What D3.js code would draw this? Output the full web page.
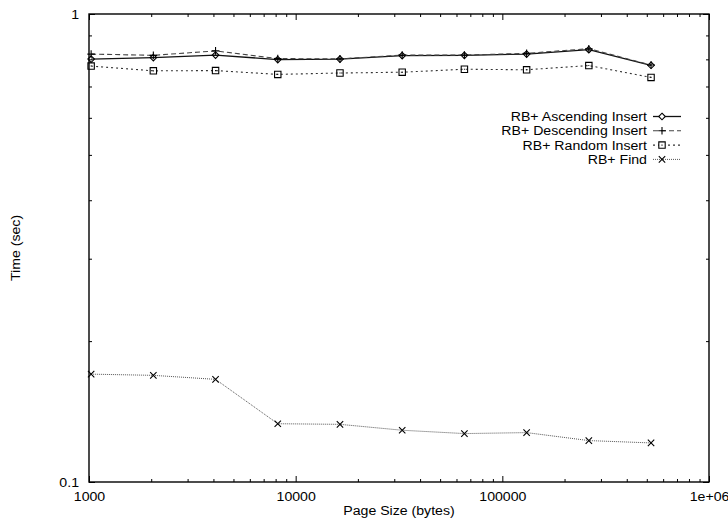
<!DOCTYPE html>
<html>
<head>
<meta charset="utf-8">
<script src="https://cdn.jsdelivr.net/npm/d3@7"></script>
<style>
  html, body { margin: 0; padding: 0; background: #fff; }
  svg { display: block; }
  text { font-family: "Liberation Sans", Arial, Helvetica, sans-serif; fill: #000; }
</style>
</head>
<body>
<svg id="chart" width="728" height="519"></svg>
<script>
// Page sizes (bytes) tested
const pageSizes = [1024, 2048, 4096, 8192, 16384, 32768, 65536, 131072, 262144, 524288];

// Elapsed time (sec) for each operation
const ascendingInsert  = [0.801, 0.807, 0.817, 0.799, 0.801, 0.815, 0.816, 0.821, 0.839, 0.777];
const descendingInsert = [0.821, 0.816, 0.834, 0.803, 0.802, 0.817, 0.817, 0.824, 0.843, 0.778];
const randomInsert     = [0.774, 0.756, 0.757, 0.743, 0.748, 0.751, 0.762, 0.760, 0.776, 0.732];
const findTime         = [0.170, 0.169, 0.1657, 0.1332, 0.1328, 0.1290, 0.1269, 0.1275, 0.1226, 0.1212];

const seriesNames = ["RB+ Ascending Insert", "RB+ Descending Insert", "RB+ Random Insert", "RB+ Find"];

// Axis ticks
const xMajorTicks = [1000, 10000, 100000, 1000000];
const xTickLabels = ["1000", "10000", "100000", "1e+06"];
const yMajorTicks = [0.1, 1];
const yTickLabels = ["0.1", "1"];

const xTitle = "Page Size (bytes)";
const yTitle = "Time (sec)";

// ---- layout ----
const W = 728, H = 519;
const margin = { left: 89, right: 19, top: 14, bottom: 37 };
const svg = d3.select("#chart");

const x = d3.scaleLog().domain([1000, 1000000]).range([margin.left, W - margin.right]);
const y = d3.scaleLog().domain([0.1, 1]).range([H - margin.bottom, margin.top]);

// minor ticks at 2..9 of each decade
function minorTicks(lo, hi) {
  const out = [];
  for (let d = lo; d < hi; d *= 10) for (let k = 2; k <= 9; k++) out.push(d * k);
  return out;
}
const xMinor = minorTicks(1000, 1000000);
const yMinor = minorTicks(0.1, 1);

const MAJOR = 6, MINOR = 3;
const fontSize = 12.5;
const stretch = 1.13;   // the typeface runs a little wider than Liberation Sans

// widen a text element horizontally while keeping its anchor point
function widen(sel) {
  sel.each(function () {
    const len = this.getComputedTextLength();
    if (len > 0) {
      this.setAttribute("textLength", len * stretch);
      this.setAttribute("lengthAdjust", "spacingAndGlyphs");
    }
  });
}

const axes = svg.append("g").attr("class", "axes");

function styleAxis(g) {
  g.select(".domain").remove();
  g.selectAll(".tick line").attr("stroke", "#000").attr("stroke-width", 1);
  g.selectAll(".tick text").attr("font-size", fontSize)
    .attr("font-family", "Liberation Sans, Arial, sans-serif").call(widen);
}

// bottom: labelled major ticks + minor ticks (pointing inward)
axes.append("g")
  .attr("transform", `translate(0,${y.range()[0]})`)
  .call(d3.axisBottom(x).tickValues(xMajorTicks)
    .tickFormat((d, i) => xTickLabels[i]).tickSizeInner(-MAJOR).tickSizeOuter(0).tickPadding(10))
  .call(styleAxis);
axes.append("g")
  .attr("transform", `translate(0,${y.range()[0]})`)
  .call(d3.axisBottom(x).tickValues(xMinor).tickFormat("").tickSizeInner(-MINOR).tickSizeOuter(0))
  .call(styleAxis);

// top mirror ticks
axes.append("g")
  .attr("transform", `translate(0,${y.range()[1]})`)
  .call(d3.axisTop(x).tickValues(xMajorTicks).tickFormat("").tickSizeInner(-MAJOR).tickSizeOuter(0))
  .call(styleAxis);
axes.append("g")
  .attr("transform", `translate(0,${y.range()[1]})`)
  .call(d3.axisTop(x).tickValues(xMinor).tickFormat("").tickSizeInner(-MINOR).tickSizeOuter(0))
  .call(styleAxis);

// left: labelled major ticks + minor ticks
axes.append("g")
  .attr("transform", `translate(${x.range()[0]},0)`)
  .call(d3.axisLeft(y).tickValues(yMajorTicks)
    .tickFormat((d, i) => yTickLabels[i]).tickSizeInner(-MAJOR).tickSizeOuter(0).tickPadding(10))
  .call(styleAxis);
axes.append("g")
  .attr("transform", `translate(${x.range()[0]},0)`)
  .call(d3.axisLeft(y).tickValues(yMinor).tickFormat("").tickSizeInner(-MINOR).tickSizeOuter(0))
  .call(styleAxis);

// right mirror ticks
axes.append("g")
  .attr("transform", `translate(${x.range()[1]},0)`)
  .call(d3.axisRight(y).tickValues(yMajorTicks).tickFormat("").tickSizeInner(-MAJOR).tickSizeOuter(0))
  .call(styleAxis);
axes.append("g")
  .attr("transform", `translate(${x.range()[1]},0)`)
  .call(d3.axisRight(y).tickValues(yMinor).tickFormat("").tickSizeInner(-MINOR).tickSizeOuter(0))
  .call(styleAxis);

// plot frame
svg.append("rect")
  .attr("x", x.range()[0]).attr("y", y.range()[1])
  .attr("width", x.range()[1] - x.range()[0])
  .attr("height", y.range()[0] - y.range()[1])
  .attr("fill", "none").attr("stroke", "#000").attr("stroke-width", 1.4);

// axis titles
svg.append("text")
  .attr("x", (x.range()[0] + x.range()[1]) / 2).attr("y", 515)
  .attr("text-anchor", "middle").attr("font-size", fontSize)
  .text(xTitle).call(widen);
svg.append("text")
  .attr("transform", `translate(20,${(y.range()[0] + y.range()[1]) / 2}) rotate(-90)`)
  .attr("text-anchor", "middle").attr("font-size", fontSize)
  .text(yTitle).call(widen);

// ---- markers ----
const markerPath = {
  diamond: s => `M0,${-s}L${s},0L0,${s}L${-s},0Z`,
  plus:    s => `M${-s},0H${s}M0,${-s}V${s}`,
  square:  s => `M${-s},${-s}H${s}V${s}H${-s}Z M-0.5,0H0.5`,
  cross:   s => `M${-s},${-s}L${s},${s}M${-s},${s}L${s},${-s}`
};

const series = [
  { name: seriesNames[0], values: ascendingInsert,  marker: "diamond", size: 3.3, dash: null,  color: "#000", width: 1.3, lineColor: "#111" },
  { name: seriesNames[1], values: descendingInsert, marker: "plus",    size: 3.8, dash: "5,3", color: "#000", width: 1.1, lineColor: "#444" },
  { name: seriesNames[2], values: randomInsert,     marker: "square",  size: 3.2, dash: "2,3", color: "#000", width: 1.1, lineColor: "#333" },
  { name: seriesNames[3], values: findTime,         marker: "cross",   size: 3.2, dash: "1,1", color: "#000", width: 1,   lineColor: "#555" }
];

const line = d3.line().x(d => x(d[0])).y(d => y(d[1]));

series.forEach(s => {
  const pts = pageSizes.map((p, i) => [p, s.values[i]]);
  const g = svg.append("g").attr("class", "series");
  g.append("path")
    .attr("d", line(pts))
    .attr("fill", "none").attr("stroke", s.lineColor).attr("stroke-width", s.width)
    .attr("stroke-dasharray", s.dash);
  g.selectAll("path.pt").data(pts).join("path")
    .attr("class", "pt")
    .attr("transform", d => `translate(${x(d[0])},${y(d[1])})`)
    .attr("d", markerPath[s.marker](s.size))
    .attr("fill", "none").attr("stroke", s.color).attr("stroke-width", 1.1);
});

// ---- legend ----
const legend = svg.append("g").attr("class", "legend");
const legendRight = 647, legendTop = 116.5, legendStep = 14.3;
series.forEach((s, i) => {
  const cy = legendTop + i * legendStep;
  legend.append("text")
    .attr("x", legendRight).attr("y", cy).attr("dy", "0.36em")
    .attr("text-anchor", "end").attr("font-size", fontSize)
    .text(s.name).call(widen);
  legend.append("line")
    .attr("x1", 653).attr("x2", 681).attr("y1", cy).attr("y2", cy)
    .attr("stroke", s.lineColor).attr("stroke-width", s.width)
    .attr("stroke-dasharray", s.dash);
  legend.append("path")
    .attr("transform", `translate(662,${cy})`)
    .attr("d", markerPath[s.marker](s.size))
    .attr("fill", "#fff").attr("stroke", s.color).attr("stroke-width", 1.1);
});
</script>
</body>
</html>
